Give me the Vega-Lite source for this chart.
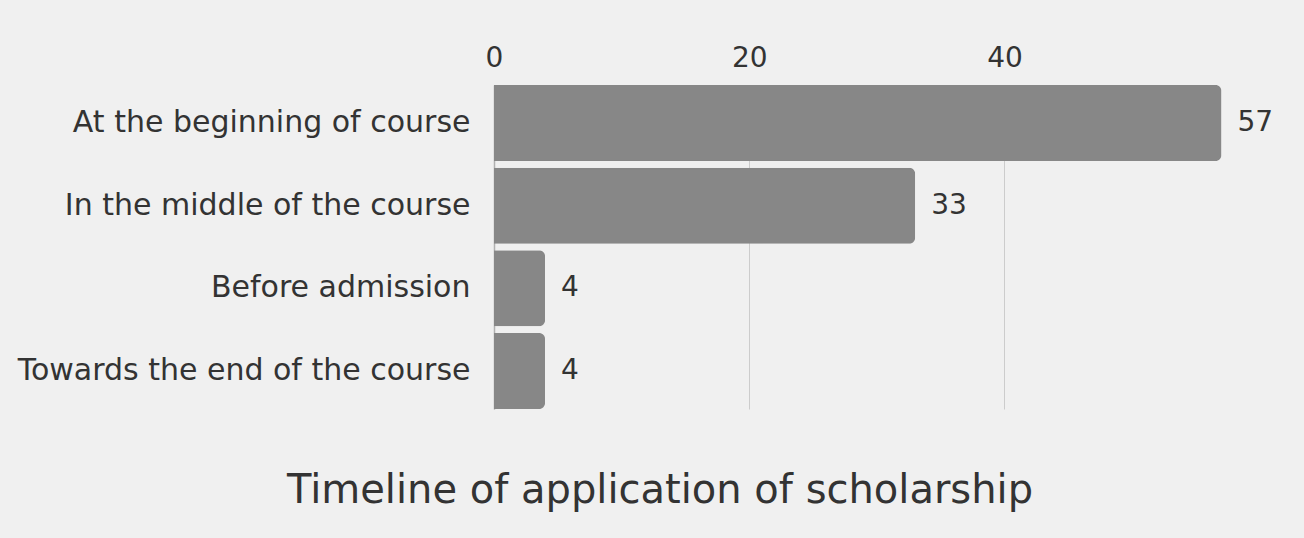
{
  "$schema": "https://vega.github.io/schema/vega-lite/v6.json",
  "autosize": {"type": "none"},
  "width": 730,
  "height": 324,
  "padding": {"left": 494, "top": 85, "right": 80, "bottom": 129},
  "background": "#f0f0f0",
  "config": {
    "view": {"stroke": null},
    "font": "DejaVu Sans"
  },
  "title": {
    "text": "Timeline of application of scholarship",
    "orient": "bottom",
    "anchor": "middle",
    "frame": "group",
    "dx": -199,
    "offset": 62,
    "fontSize": 40,
    "fontWeight": "normal",
    "color": "#333333",
    "font": "DejaVu Sans"
  },
  "data": {
    "values": [
      {"timing": "At the beginning of course", "count": 57},
      {"timing": "In the middle of the course", "count": 33},
      {"timing": "Before admission", "count": 4},
      {"timing": "Towards the end of the course", "count": 4}
    ]
  },
  "encoding": {
    "y": {
      "field": "timing",
      "type": "nominal",
      "sort": null,
      "scale": {"paddingInner": 0.08, "paddingOuter": 0},
      "axis": {
        "title": null,
        "ticks": false,
        "domain": true,
        "domainColor": "#b0b0b0",
        "domainWidth": 1.5,
        "labelFontSize": 30,
        "labelColor": "#333333",
        "labelPadding": 24,
        "labelLimit": 600
      }
    },
    "x": {
      "field": "count",
      "type": "quantitative",
      "scale": {"domain": [0, 57.2], "nice": false},
      "axis": {
        "orient": "top",
        "title": null,
        "values": [0, 20, 40],
        "ticks": false,
        "domain": false,
        "grid": true,
        "gridColor": "#cccccc",
        "gridWidth": 1,
        "labelFlush": false,
        "labelFontSize": 28,
        "labelColor": "#333333",
        "labelPadding": 13
      }
    }
  },
  "layer": [
    {
      "mark": {"type": "bar", "color": "#878787", "cornerRadiusEnd": 6}
    },
    {
      "mark": {"type": "text", "align": "left", "baseline": "middle", "dx": 16, "fontSize": 28, "color": "#333333"},
      "encoding": {"text": {"field": "count", "type": "quantitative"}}
    }
  ]
}
